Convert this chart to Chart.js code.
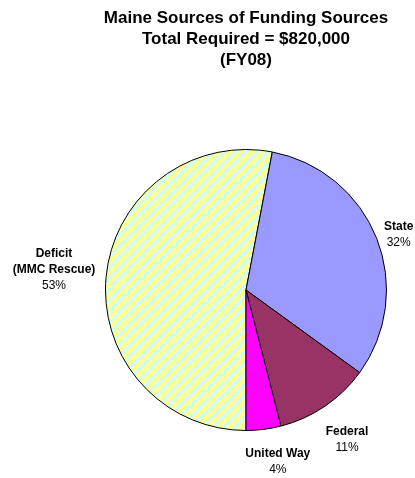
<!DOCTYPE html>
<html>
<head>
<meta charset="utf-8">
<script src="https://cdn.jsdelivr.net/npm/chart.js@4"></script>
<style>
  html, body { margin: 0; padding: 0; background: #fff; }
  #wrap { width: 415px; height: 478px; position: relative; }
</style>
</head>
<body>
<div id="wrap"><canvas id="pieChart"></canvas></div>
<script>
  const titleLines = ["Maine Sources of Funding Sources", "Total Required = $820,000", "(FY08)"];
  const categories = ["Deficit\n(MMC Rescue)", "State", "Federal", "United Way"];
  const shares = [53, 32, 11, 4];
  const sliceColors = [null, "#9999FF", "#993366", "#FF00FF"];
  // small nudges so the labels sit where the original put them
  const labelNudge = [[-2, -4], [0, 6], [5, 13], [9, 7]];

  // diagonal yellow / pale cyan stripes for the deficit slice
  function stripePattern() {
    const n = 11;
    const c = document.createElement("canvas");
    c.width = n; c.height = n;
    const g = c.getContext("2d");
    const img = g.createImageData(n, n);
    for (let y = 0; y < n; y++) {
      for (let x = 0; x < n; x++) {
        const i = (y * n + x) * 4;
        const cyan = (x + y) % n < 4;
        img.data[i] = cyan ? 204 : 255;
        img.data[i + 1] = 255;
        img.data[i + 2] = cyan ? 255 : 153;
        img.data[i + 3] = 255;
      }
    }
    g.putImageData(img, 0, 0);
    return g.createPattern(c, "repeat");
  }
  sliceColors[0] = stripePattern();

  const labelPlugin = {
    id: "sliceLabels",
    afterDraw(chart) {
      const ctx = chart.ctx;
      ctx.save();
      ctx.fillStyle = "#000";
      ctx.textAlign = "center";
      ctx.textBaseline = "middle";
      // title
      ctx.font = "bold 17px 'Liberation Sans', Arial, sans-serif";
      titleLines.forEach((t, i) => ctx.fillText(t, 246, 18 + i * 21));

      const meta = chart.getDatasetMeta(0);
      const lh = 16;
      meta.data.forEach((arc, i) => {
        const p = arc.getProps(["x", "y", "startAngle", "endAngle", "outerRadius"], true);
        const mid = (p.startAngle + p.endAngle) / 2;
        const lines = categories[i].split("\n");
        ctx.font = "bold 12px 'Liberation Sans', Arial, sans-serif";
        let w = 0;
        lines.forEach(l => { w = Math.max(w, ctx.measureText(l).width); });
        const h = (lines.length + 1) * lh;
        const gap = 9;
        const ax = p.x + Math.cos(mid) * (p.outerRadius + gap);
        const ay = p.y + Math.sin(mid) * (p.outerRadius + gap);
        const cx = ax + Math.cos(mid) * w / 2 + labelNudge[i][0];
        const cy = ay + Math.sin(mid) * h / 2 + labelNudge[i][1];
        let y = cy - h / 2 + lh / 2;
        lines.forEach(l => { ctx.fillText(l, cx, y); y += lh; });
        ctx.font = "12px 'Liberation Sans', Arial, sans-serif";
        ctx.fillText(shares[i] + "%", cx, y);
      });
      ctx.restore();
    }
  };

  new Chart(document.getElementById("pieChart").getContext("2d"), {
    type: "pie",
    data: {
      labels: categories,
      datasets: [
        {
          data: shares,
          backgroundColor: sliceColors,
          borderColor: "#000",
          borderWidth: 1,
          hoverOffset: 0,
        },
      ],
    },
    options: {
      responsive: true,
      maintainAspectRatio: false,
      animation: false,
      rotation: 180,
      layout: { padding: { left: 105, right: 28, top: 149, bottom: 47 } },
      plugins: { legend: { display: false }, tooltip: { enabled: false }, title: { display: false } },
    },
    plugins: [labelPlugin],
  });
</script>
</body>
</html>
